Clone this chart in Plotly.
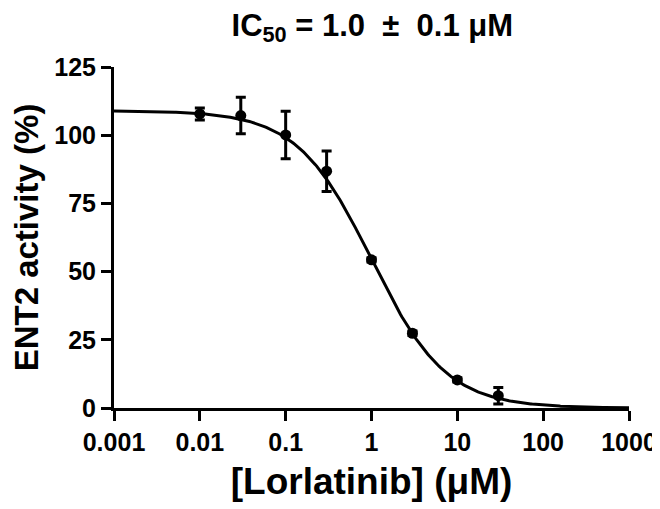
import numpy as np
import plotly.graph_objects as go

# measured points (mean +/- SEM)
conc_uM = [0.01, 0.03, 0.1, 0.3, 1, 3, 10, 30]
activity_pct = [107.8, 107.2, 100.1, 86.8, 54.3, 27.4, 10.3, 4.5]
sem_pct = [2.2, 6.7, 8.7, 7.4, 0.8, 0.8, 0.8, 3.0]

# fitted dose-response parameters
fit_top = 109.0
fit_bottom = 0.0
fit_ic50 = 1.0
fit_hill = 1.0

x_tickvals = [0.001, 0.01, 0.1, 1, 10, 100, 1000]
x_ticktext = ["0.001", "0.01", "0.1", "1", "10", "100", "1000"]
y_tickvals = [0, 25, 50, 75, 100, 125]

FONT = "Arial, 'Liberation Sans', sans-serif"

xc = np.logspace(-3, 3, 400)
yc = fit_bottom + (fit_top - fit_bottom) / (1 + (xc / fit_ic50) ** fit_hill)

fig = go.Figure()
fig.add_trace(go.Scatter(x=xc, y=yc, mode="lines",
                         line=dict(color="black", width=3), hoverinfo="skip"))
fig.add_trace(go.Scatter(x=conc_uM, y=activity_pct, mode="markers",
                         marker=dict(color="black", size=11),
                         error_y=dict(type="data", array=sem_pct, color="black",
                                      thickness=3, width=5)))

axis_common = dict(showline=True, linecolor="black", linewidth=3,
                   ticks="outside", ticklen=10, tickwidth=3, tickcolor="black",
                   showgrid=False, zeroline=False, automargin=False,
                   tickfont=dict(family=FONT, size=25, color="black", weight="bold"))

fig.update_xaxes(type="log", range=[-3, 3], tickvals=x_tickvals, ticktext=x_ticktext,
                 title=dict(text="[Lorlatinib] (μM)", standoff=14,
                            font=dict(family=FONT, size=37, color="black", weight="bold")),
                 **axis_common)
fig.update_yaxes(range=[0, 125], tickvals=y_tickvals,
                 title=dict(text="ENT2 activity (%)", standoff=30,
                            font=dict(family=FONT, size=33, color="black", weight="bold")),
                 **axis_common)

# page body adds ~8px offset, margins compensate for it
fig.update_layout(
    width=660, height=509,
    margin=dict(l=106, r=39, t=59, b=109),
    plot_bgcolor="white", paper_bgcolor="white",
    showlegend=False,
    title=dict(text="IC<sub>50</sub> = 1.0  ±  0.1 μM", x=0.552, xanchor="center",
               y=0.988, yanchor="top", pad=dict(t=0),
               font=dict(family=FONT, size=31, color="black", weight="bold")),
)

fig.write_html("out.html")
